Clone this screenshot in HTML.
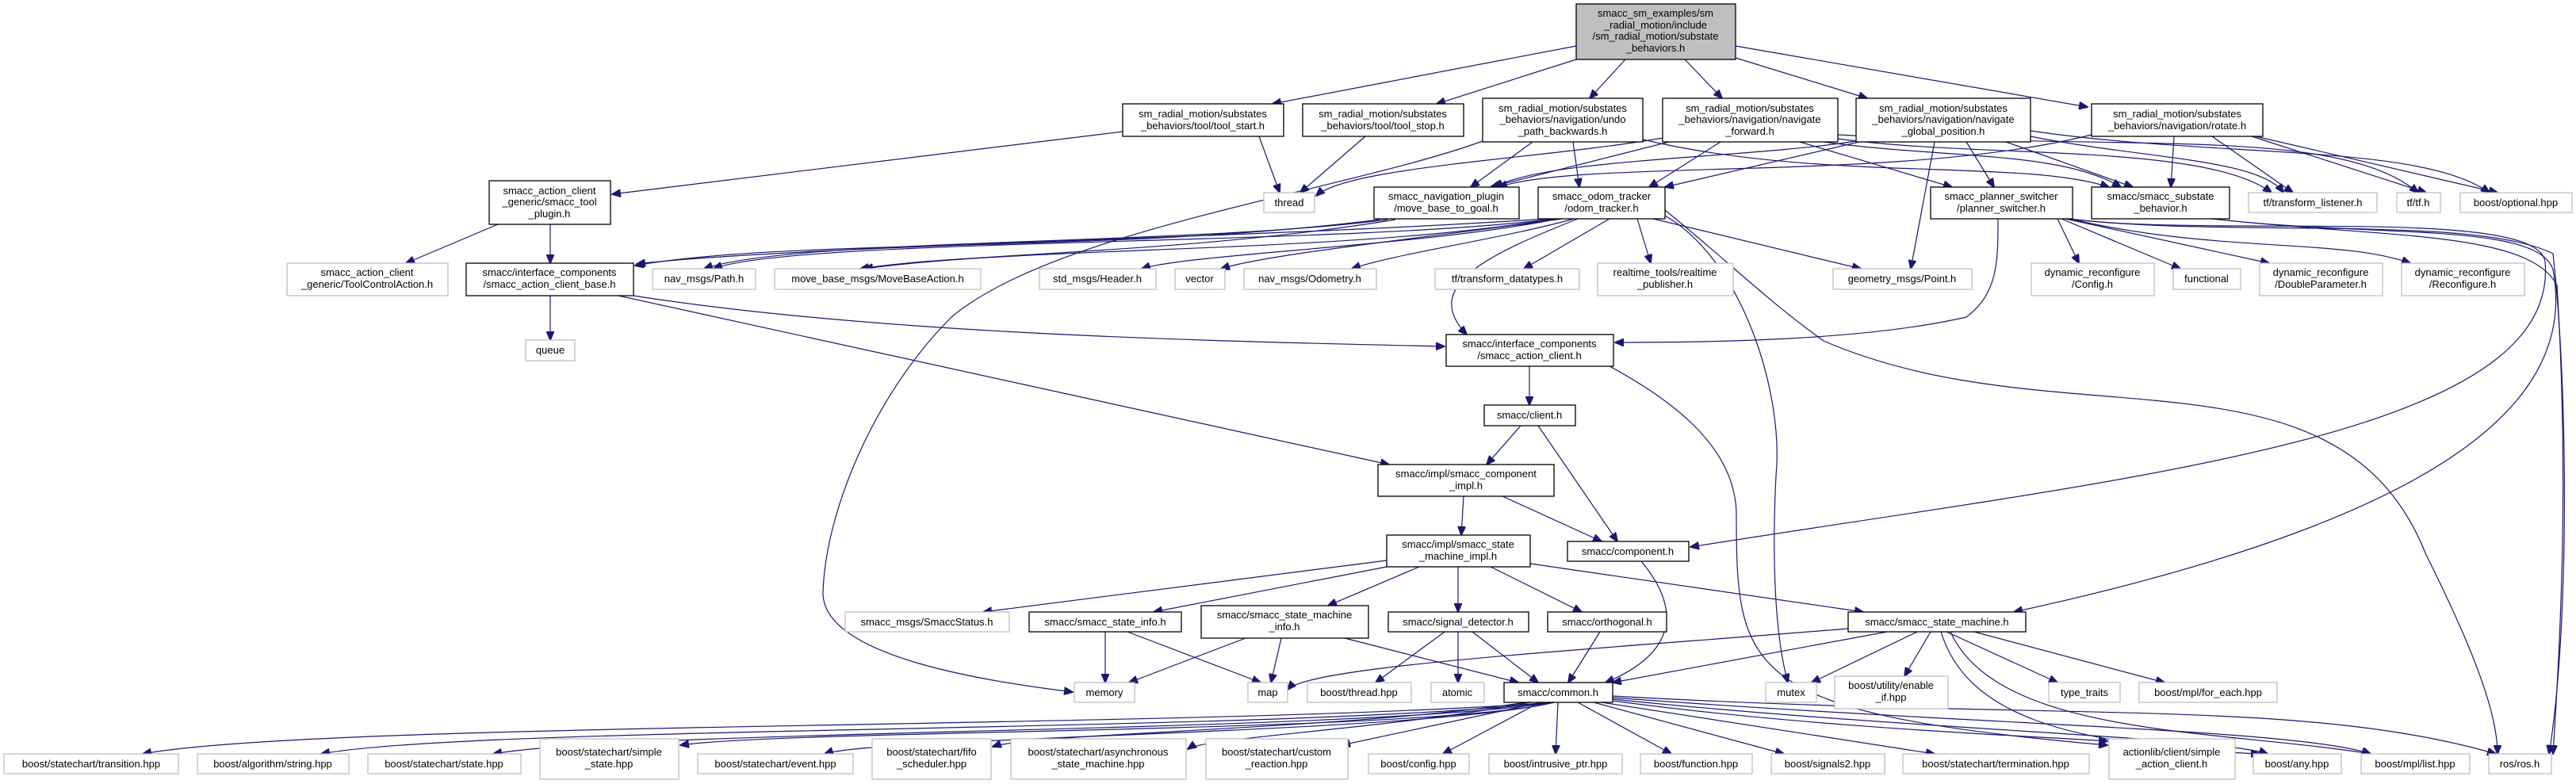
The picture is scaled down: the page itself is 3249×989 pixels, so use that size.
<!DOCTYPE html>
<html><head><meta charset="utf-8"><style>
html,body{margin:0;padding:0;background:#fff;}
svg{display:block}
text{font-family:"Liberation Sans",sans-serif;font-size:13px;fill:#000;text-anchor:middle}
.b{fill:#fff;stroke:#000;stroke-width:1.3}
.g{fill:#fff;stroke:#bfbfbf;stroke-width:1.3}
.r{fill:#bfbfbf;stroke:#000;stroke-width:1.3}
path{fill:none;stroke:#191970;stroke-width:1.2}
</style></head><body>
<svg width="3249" height="989" viewBox="0 0 3249 989" xmlns="http://www.w3.org/2000/svg">
<defs><marker id="a" markerUnits="userSpaceOnUse" markerWidth="12" markerHeight="10" refX="11" refY="5" orient="auto"><path d="M0,0 L12,5 L0,10 Z" style="fill:#191970;stroke:#191970;stroke-width:1"/></marker></defs>
<g marker-end="url(#a)">
<!-- root -->
<path d="M1988,58 L1605,131"/>
<path d="M1988,75 L1812,131"/>
<path d="M2050,75 L2005,124"/>
<path d="M2125,75 L2172,124"/>
<path d="M2189,73 L2355,124"/>
<path d="M2189,58 L2633,135"/>
<!-- tool -->
<path d="M1416,166 L772,245"/>
<path d="M1588,172 L1614,243"/>
<path d="M1722,172 L1640,243"/>
<path d="M628,283 L512,332"/>
<path d="M694,283 L694,332"/>
<path d="M694,373 L694,429"/>
<path d="M799,373 C1100,420 1500,430 1822,437"/>
<path d="M780,373 L1752,586"/>
<!-- undo -->
<path d="M1933,179 L1855,236"/>
<path d="M1984,179 L1992,236"/>
<path d="M2072,176 C2300,230 2550,200 2660,236"/>
<path d="M1870,178 C1700,240 1330,290 1200,400 C1100,500 1040,650 1038,749 C1040,830 1250,860 1353,873"/>
<!-- forward -->
<path d="M2105,179 L1880,236"/>
<path d="M2170,179 L2080,236"/>
<path d="M2097,174 C1950,200 1700,210 1660,247"/>
<path d="M2270,179 L2462,236"/>
<path d="M2300,179 C2450,200 2600,190 2675,236"/>
<path d="M2318,175 C2500,200 2780,180 2865,243"/>
<path d="M2318,170 C2700,190 2950,160 3050,243"/>
<!-- global -->
<path d="M2341,178 C2200,200 1950,200 1885,236"/>
<path d="M2345,179 L2100,236"/>
<path d="M2440,179 L2410,339"/>
<path d="M2480,179 L2515,236"/>
<path d="M2530,179 L2690,236"/>
<path d="M2561,172 C2700,200 2850,200 2880,243"/>
<path d="M2561,165 C2800,200 3050,180 3140,243"/>
<!-- rotate -->
<path d="M2638,170 C2400,230 2000,200 1890,236"/>
<path d="M2742,172 L2738,236"/>
<path d="M2790,172 L2892,243"/>
<path d="M2840,172 L3060,243"/>
<path d="M2845,172 L3150,243"/>
<!-- move_base_to_goal -->
<path d="M1750,277 C1500,310 1000,300 888,339"/>
<path d="M1760,277 C1500,320 1200,320 1085,339"/>
<path d="M1740,277 C1400,320 1000,300 801,335"/>
<!-- odom -->
<path d="M1960,276 C1700,310 1000,300 900,339"/>
<path d="M1960,276 C1700,320 1300,310 1090,339"/>
<path d="M1950,276 C1600,300 1000,310 803,333"/>
<path d="M1965,276 C1800,310 1500,320 1440,339"/>
<path d="M1970,276 C1800,300 1600,320 1540,339"/>
<path d="M1985,276 C1900,300 1760,320 1705,339"/>
<path d="M2030,276 L1922,339"/>
<path d="M2065,276 L2082,332"/>
<path d="M2085,276 L2347,339"/>
<path d="M1990,276 C1880,320 1790,360 1850,422"/>
<path d="M2100,272 C2200,330 2250,500 2240,600 C2235,700 2238,800 2255,861"/>
<path d="M2100,265 C2180,330 2230,380 2300,430 C2600,560 2950,420 3060,700 C3120,820 3150,900 3150,951"/>
<!-- planner -->
<path d="M2595,276 L2622,332"/>
<path d="M2600,276 L2750,339"/>
<path d="M2605,276 L2862,332"/>
<path d="M2610,276 C2800,320 2950,300 3040,332"/>
<path d="M2520,276 C2520,330 2520,370 2480,400 C2350,430 2150,432 2037,432"/>
<path d="M2608,276 C2800,300 3200,260 3210,330 C3230,550 2700,600 2132,690"/>
<path d="M2610,276 C2800,300 3120,270 3220,320 C3240,500 3240,800 3215,951"/>
<!-- substate -->
<path d="M2790,276 C3000,300 3200,280 3220,340 C3250,500 3100,650 2540,772"/>
<path d="M2790,276 C3000,300 3190,290 3225,360 C3240,600 3230,800 3220,951"/>
<!-- action client -->
<path d="M1929,462 L1929,511"/>
<path d="M2030,462 C2100,500 2190,560 2190,650 C2190,850 2200,900 2658,940"/>
<!-- client -->
<path d="M1918,537 L1875,586"/>
<path d="M1940,537 L2040,683"/>
<path d="M1846,626 L1843,675"/>
<path d="M1895,626 L2020,683"/>
<!-- sm impl -->
<path d="M1749,707 L1240,772"/>
<path d="M1749,715 L1455,772"/>
<path d="M1790,715 L1675,764"/>
<path d="M1839,715 L1839,772"/>
<path d="M1880,715 L1995,772"/>
<path d="M1930,711 L2350,772"/>
<path d="M2070,708 C2130,780 2100,830 2025,861"/>
<path d="M1394,797 L1394,861"/>
<path d="M1422,797 L1590,861"/>
<path d="M1571,805 L1424,861"/>
<path d="M1616,805 L1603,861"/>
<path d="M1696,805 L1915,861"/>
<path d="M1822,797 L1735,861"/>
<path d="M1839,797 L1839,861"/>
<path d="M1857,797 L1940,861"/>
<path d="M2018,797 L1978,861"/>
<path d="M2331,793 C2000,820 1650,840 1624,870"/>
<path d="M2380,797 L2034,861"/>
<path d="M2418,797 L2285,861"/>
<path d="M2435,797 L2402,853"/>
<path d="M2455,797 L2595,861"/>
<path d="M2490,797 L2730,861"/>
<path d="M2448,797 C2480,900 2600,940 2850,951"/>
<path d="M2460,797 C2520,930 2800,920 2990,951"/>
<!-- common -->
<path d="M1960,886 C1500,920 400,910 180,951"/>
<path d="M1960,886 C1600,925 600,915 405,951"/>
<path d="M1960,886 C1700,925 800,920 622,951"/>
<path d="M1960,886 C1800,925 1000,920 858,940"/>
<path d="M1960,886 C1800,925 1100,930 1040,951"/>
<path d="M1925,886 C1700,920 1300,925 1252,942"/>
<path d="M1930,886 C1750,920 1520,930 1498,945"/>
<path d="M1945,886 L1692,940"/>
<path d="M1942,886 L1820,951"/>
<path d="M1965,886 L1962,951"/>
<path d="M1990,886 L2108,951"/>
<path d="M2010,886 L2250,951"/>
<path d="M2020,886 L2440,951"/>
<path d="M2034,884 C2300,920 2600,930 2658,935"/>
<path d="M2034,882 C2400,920 2800,930 2860,951"/>
<path d="M2034,880 C2500,915 2900,920 2990,951"/>
<path d="M2034,878 C2600,910 2900,880 3148,951"/>
</g>

<!-- nodes -->
<rect class="r" x="1988" y="5" width="201" height="70"/>
<text x="2088" y="21">smacc_sm_examples/sm</text><text x="2088" y="36">_radial_motion/include</text><text x="2088" y="50">/sm_radial_motion/substate</text><text x="2088" y="65">_behaviors.h</text>

<rect class="b" x="1416" y="131" width="203" height="41"/><text x="1517" y="148">sm_radial_motion/substates</text><text x="1517" y="163">_behaviors/tool/tool_start.h</text>
<rect class="b" x="1643" y="131" width="203" height="41"/><text x="1744" y="148">sm_radial_motion/substates</text><text x="1744" y="163">_behaviors/tool/tool_stop.h</text>
<rect class="b" x="1870" y="124" width="202" height="55"/><text x="1971" y="141">sm_radial_motion/substates</text><text x="1971" y="155">_behaviors/navigation/undo</text><text x="1971" y="170">_path_backwards.h</text>
<rect class="b" x="2097" y="124" width="221" height="55"/><text x="2207" y="141">sm_radial_motion/substates</text><text x="2207" y="155">_behaviors/navigation/navigate</text><text x="2207" y="170">_forward.h</text>
<rect class="b" x="2341" y="124" width="220" height="55"/><text x="2451" y="141">sm_radial_motion/substates</text><text x="2451" y="155">_behaviors/navigation/navigate</text><text x="2451" y="170">_global_position.h</text>
<rect class="b" x="2638" y="131" width="216" height="41"/><text x="2746" y="148">sm_radial_motion/substates</text><text x="2746" y="163">_behaviors/navigation/rotate.h</text>

<rect class="b" x="617" y="228" width="153" height="55"/><text x="693" y="245">smacc_action_client</text><text x="693" y="259">_generic/smacc_tool</text><text x="693" y="274">_plugin.h</text>
<rect class="g" x="1594" y="243" width="64" height="25"/><text x="1626" y="260">thread</text>
<rect class="b" x="1733" y="236" width="183" height="40"/><text x="1824" y="252">smacc_navigation_plugin</text><text x="1824" y="267">/move_base_to_goal.h</text>
<rect class="b" x="1940" y="236" width="160" height="40"/><text x="2020" y="252">smacc_odom_tracker</text><text x="2020" y="267">/odom_tracker.h</text>
<rect class="b" x="2435" y="236" width="179" height="40"/><text x="2524" y="252">smacc_planner_switcher</text><text x="2524" y="267">/planner_switcher.h</text>
<rect class="b" x="2638" y="236" width="174" height="40"/><text x="2725" y="252">smacc/smacc_substate</text><text x="2725" y="267">_behavior.h</text>
<rect class="g" x="2836" y="243" width="162" height="25"/><text x="2917" y="260">tf/transform_listener.h</text>
<rect class="g" x="3023" y="243" width="55" height="25"/><text x="3050" y="260">tf/tf.h</text>
<rect class="g" x="3103" y="243" width="141" height="25"/><text x="3173" y="260">boost/optional.hpp</text>

<rect class="g" x="362" y="332" width="203" height="41"/><text x="463" y="348">smacc_action_client</text><text x="463" y="363">_generic/ToolControlAction.h</text>
<rect class="b" x="588" y="332" width="211" height="41"/><text x="693" y="348">smacc/interface_components</text><text x="693" y="363">/smacc_action_client_base.h</text>
<rect class="g" x="823" y="339" width="130" height="26"/><text x="888" y="356">nav_msgs/Path.h</text>
<rect class="g" x="977" y="339" width="260" height="26"/><text x="1107" y="356">move_base_msgs/MoveBaseAction.h</text>
<rect class="g" x="1311" y="339" width="147" height="26"/><text x="1384" y="356">std_msgs/Header.h</text>
<rect class="g" x="1482" y="339" width="63" height="26"/><text x="1513" y="356">vector</text>
<rect class="g" x="1569" y="339" width="167" height="26"/><text x="1652" y="356">nav_msgs/Odometry.h</text>
<rect class="g" x="1810" y="339" width="182" height="26"/><text x="1901" y="356">tf/transform_datatypes.h</text>
<rect class="g" x="2015" y="332" width="171" height="41"/><text x="2100" y="348">realtime_tools/realtime</text><text x="2100" y="363">_publisher.h</text>
<rect class="g" x="2312" y="339" width="175" height="26"/><text x="2399" y="356">geometry_msgs/Point.h</text>
<rect class="g" x="2562" y="332" width="155" height="41"/><text x="2639" y="348">dynamic_reconfigure</text><text x="2639" y="363">/Config.h</text>
<rect class="g" x="2741" y="339" width="85" height="26"/><text x="2783" y="356">functional</text>
<rect class="g" x="2850" y="332" width="155" height="41"/><text x="2927" y="348">dynamic_reconfigure</text><text x="2927" y="363">/DoubleParameter.h</text>
<rect class="g" x="3029" y="332" width="155" height="41"/><text x="3106" y="348">dynamic_reconfigure</text><text x="3106" y="363">/Reconfigure.h</text>

<rect class="g" x="663" y="429" width="62" height="26"/><text x="694" y="446">queue</text>
<rect class="b" x="1824" y="422" width="211" height="40"/><text x="1929" y="438">smacc/interface_components</text><text x="1929" y="453">/smacc_action_client.h</text>

<rect class="b" x="1872" y="511" width="115" height="26"/><text x="1929" y="528">smacc/client.h</text>
<rect class="b" x="1738" y="586" width="222" height="40"/><text x="1849" y="602">smacc/impl/smacc_component</text><text x="1849" y="617">_impl.h</text>
<rect class="b" x="1749" y="675" width="181" height="40"/><text x="1839" y="691">smacc/impl/smacc_state</text><text x="1839" y="706">_machine_impl.h</text>
<rect class="b" x="1977" y="683" width="153" height="25"/><text x="2053" y="700">smacc/component.h</text>

<rect class="g" x="1066" y="772" width="207" height="25"/><text x="1169" y="789">smacc_msgs/SmaccStatus.h</text>
<rect class="b" x="1298" y="772" width="192" height="25"/><text x="1394" y="789">smacc/smacc_state_info.h</text>
<rect class="b" x="1515" y="764" width="211" height="41"/><text x="1620" y="780">smacc/smacc_state_machine</text><text x="1620" y="795">_info.h</text>
<rect class="b" x="1751" y="772" width="177" height="25"/><text x="1839" y="789">smacc/signal_detector.h</text>
<rect class="b" x="1952" y="772" width="150" height="25"/><text x="2027" y="789">smacc/orthogonal.h</text>
<rect class="b" x="2331" y="772" width="224" height="25"/><text x="2443" y="789">smacc/smacc_state_machine.h</text>

<rect class="g" x="1355" y="861" width="76" height="25"/><text x="1393" y="878">memory</text>
<rect class="g" x="1574" y="861" width="50" height="25"/><text x="1599" y="878">map</text>
<rect class="g" x="1649" y="861" width="131" height="25"/><text x="1714" y="878">boost/thread.hpp</text>
<rect class="g" x="1805" y="861" width="67" height="25"/><text x="1838" y="878">atomic</text>
<rect class="b" x="1897" y="861" width="137" height="25"/><text x="1965" y="878">smacc/common.h</text>
<rect class="g" x="2227" y="861" width="64" height="25"/><text x="2259" y="878">mutex</text>
<rect class="g" x="2314" y="853" width="143" height="41"/><text x="2385" y="869">boost/utility/enable</text><text x="2385" y="884">_if.hpp</text>
<rect class="g" x="2584" y="861" width="90" height="25"/><text x="2629" y="878">type_traits</text>
<rect class="g" x="2698" y="861" width="174" height="25"/><text x="2785" y="878">boost/mpl/for_each.hpp</text>

<rect class="g" x="5" y="951" width="220" height="25"/><text x="115" y="968">boost/statechart/transition.hpp</text>
<rect class="g" x="249" y="951" width="191" height="25"/><text x="344" y="968">boost/algorithm/string.hpp</text>
<rect class="g" x="464" y="951" width="193" height="25"/><text x="560" y="968">boost/statechart/state.hpp</text>
<rect class="g" x="681" y="932" width="175" height="51"/><text x="768" y="953">boost/statechart/simple</text><text x="768" y="968">_state.hpp</text>
<rect class="g" x="880" y="951" width="196" height="25"/><text x="978" y="968">boost/statechart/event.hpp</text>
<rect class="g" x="1100" y="932" width="150" height="51"/><text x="1175" y="953">boost/statechart/fifo</text><text x="1175" y="968">_scheduler.hpp</text>
<rect class="g" x="1275" y="932" width="221" height="51"/><text x="1385" y="953">boost/statechart/asynchronous</text><text x="1385" y="968">_state_machine.hpp</text>
<rect class="g" x="1521" y="932" width="179" height="51"/><text x="1610" y="953">boost/statechart/custom</text><text x="1610" y="968">_reaction.hpp</text>
<rect class="g" x="1726" y="951" width="127" height="25"/><text x="1789" y="968">boost/config.hpp</text>
<rect class="g" x="1878" y="951" width="168" height="25"/><text x="1962" y="968">boost/intrusive_ptr.hpp</text>
<rect class="g" x="2069" y="951" width="141" height="25"/><text x="2139" y="968">boost/function.hpp</text>
<rect class="g" x="2234" y="951" width="143" height="25"/><text x="2305" y="968">boost/signals2.hpp</text>
<rect class="g" x="2400" y="951" width="235" height="25"/><text x="2517" y="968">boost/statechart/termination.hpp</text>
<rect class="g" x="2660" y="932" width="159" height="51"/><text x="2739" y="953">actionlib/client/simple</text><text x="2739" y="968">_action_client.h</text>
<rect class="g" x="2842" y="951" width="111" height="25"/><text x="2897" y="968">boost/any.hpp</text>
<rect class="g" x="2978" y="951" width="137" height="25"/><text x="3046" y="968">boost/mpl/list.hpp</text>
<rect class="g" x="3139" y="951" width="79" height="25"/><text x="3178" y="968">ros/ros.h</text>
</svg>
</body></html>
